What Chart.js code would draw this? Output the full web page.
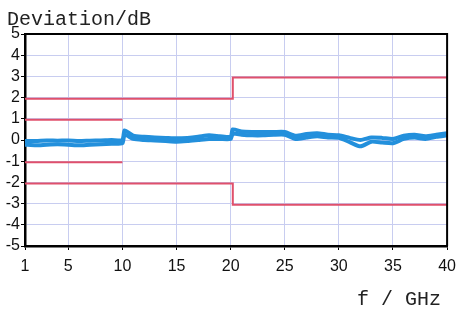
<!DOCTYPE html>
<html>
<head>
<meta charset="utf-8">
<script src="https://cdn.jsdelivr.net/npm/chart.js@4/dist/chart.umd.min.js"></script>
<style>
  html, body { margin: 0; padding: 0; background: #fff; }
  #wrap { width: 463px; height: 310px; position: relative; }
</style>
</head>
<body>
<div id="wrap"><canvas id="devChart"></canvas></div>
<script>
// -------------------------------
//  DATA
// -------------------------------
const freqs = [1, 2, 3, 4, 5, 6, 7, 8, 9, 10, 10.2, 11, 12, 13, 14, 15, 16, 17, 18, 19, 20, 20.2,
               21, 22, 23, 24, 25, 26, 27, 28, 29, 30, 31, 32, 33, 34, 35, 36, 37, 38, 39, 40];
const traceUpper = [-0.05, -0.05, -0.02, -0.03, -0.02, -0.05, -0.03, -0.02, 0.0, 0.0, 0.45, 0.2, 0.15, 0.12, 0.1, 0.08, 0.1, 0.15, 0.22, 0.18, 0.15, 0.5,
                    0.4, 0.38, 0.38, 0.38, 0.38, 0.2, 0.28, 0.32, 0.25, 0.22, 0.1, 0.0, 0.12, 0.1, 0.05, 0.2, 0.25, 0.18, 0.25, 0.32];
const traceLower = [-0.22, -0.25, -0.22, -0.2, -0.22, -0.25, -0.22, -0.2, -0.18, -0.15, 0.25, 0.05, 0.0, -0.02, -0.05, -0.08, -0.05, 0.0, 0.05, 0.05, 0.05, 0.3,
                    0.25, 0.22, 0.22, 0.25, 0.25, 0.05, 0.12, 0.18, 0.12, 0.1, -0.1, -0.3, -0.08, -0.12, -0.15, 0.05, 0.12, 0.05, 0.15, 0.22];

// tolerance limits (step at ~20 GHz)
const limitOuterX = [1, 20.2, 20.2, 40];
const limitOuterHi = [1.95, 1.95, 2.95, 2.95];
const limitOuterLo = [-2.05, -2.05, -3.05, -3.05];
const limitInnerX = [1, 10];
const limitInnerHi = [0.95, 0.95];
const limitInnerLo = [-1.05, -1.05];

const xTicks = [1, 5, 10, 15, 20, 25, 30, 35, 40];

const COLORS = {
    trace: '#2390dc',
    limit: '#e0506c',
    grid: '#c8cdf0',
    axis: '#000'
};

const pts = (xs, ys) => xs.map((x, i) => ({ x: x, y: ys[i] }));

function limitSet(xs, ys) {
    return {
        data: pts(xs, ys),
        borderColor: COLORS.limit,
        borderWidth: 2,
        pointRadius: 0,
        tension: 0,
        order: 2
    };
}

function traceSet(ys) {
    return {
        data: pts(freqs, ys),
        borderColor: COLORS.trace,
        borderWidth: 4,
        pointRadius: 0,
        tension: 0.2,
        order: 1
    };
}

// frame on top/right + the two axis labels
const framePlugin = {
    id: 'frame',
    afterDraw(chart) {
        const { ctx, chartArea: a } = chart;
        ctx.save();
        ctx.strokeStyle = COLORS.axis;
        ctx.lineWidth = 2;
        ctx.beginPath();
        ctx.moveTo(a.left, a.top);
        ctx.lineTo(a.right, a.top);
        ctx.lineTo(a.right, a.bottom);
        ctx.stroke();

        ctx.fillStyle = '#222';
        ctx.font = "20px 'Liberation Mono', monospace";
        ctx.textBaseline = 'alphabetic';
        ctx.textAlign = 'left';
        ctx.fillText('Deviation/dB', 7, 25);
        ctx.fillText('f / GHz', 357, 305);
        ctx.restore();
    }
};

new Chart(document.getElementById('devChart'), {
    type: 'line',
    data: {
        datasets: [
            traceSet(traceUpper),
            traceSet(traceLower),
            limitSet(limitOuterX, limitOuterHi),
            limitSet(limitOuterX, limitOuterLo),
            limitSet(limitInnerX, limitInnerHi),
            limitSet(limitInnerX, limitInnerLo)
        ]
    },
    options: {
        responsive: true,
        maintainAspectRatio: false,
        animation: false,
        layout: { padding: { left: 0, top: 34, right: 14, bottom: 0 } },
        plugins: {
            legend: { display: false },
            tooltip: { enabled: false }
        },
        scales: {
            x: {
                type: 'linear',
                min: 1,
                max: 40,
                afterBuildTicks: scale => { scale.ticks = xTicks.map(v => ({ value: v })); },
                afterFit: scale => { scale.height = 64; },
                grid: { color: COLORS.grid, lineWidth: 1, tickColor: COLORS.axis, tickLength: 4 },
                border: { color: COLORS.axis, width: 2.5 },
                ticks: {
                    color: '#111',
                    padding: 7,
                    maxRotation: 0,
                    autoSkip: false,
                    font: { family: "'Liberation Sans', Arial, sans-serif", size: 16 }
                }
            },
            y: {
                min: -5,
                max: 5,
                afterFit: scale => { scale.width = 25; },
                grid: { color: COLORS.grid, lineWidth: 1, tickColor: COLORS.axis, tickLength: 4 },
                border: { color: COLORS.axis, width: 2.5 },
                ticks: {
                    stepSize: 1,
                    autoSkip: false,
                    color: '#111',
                    padding: 1,
                    font: { family: "'Liberation Sans', Arial, sans-serif", size: 16 }
                }
            }
        }
    },
    plugins: [framePlugin]
});
</script>
</body>
</html>
